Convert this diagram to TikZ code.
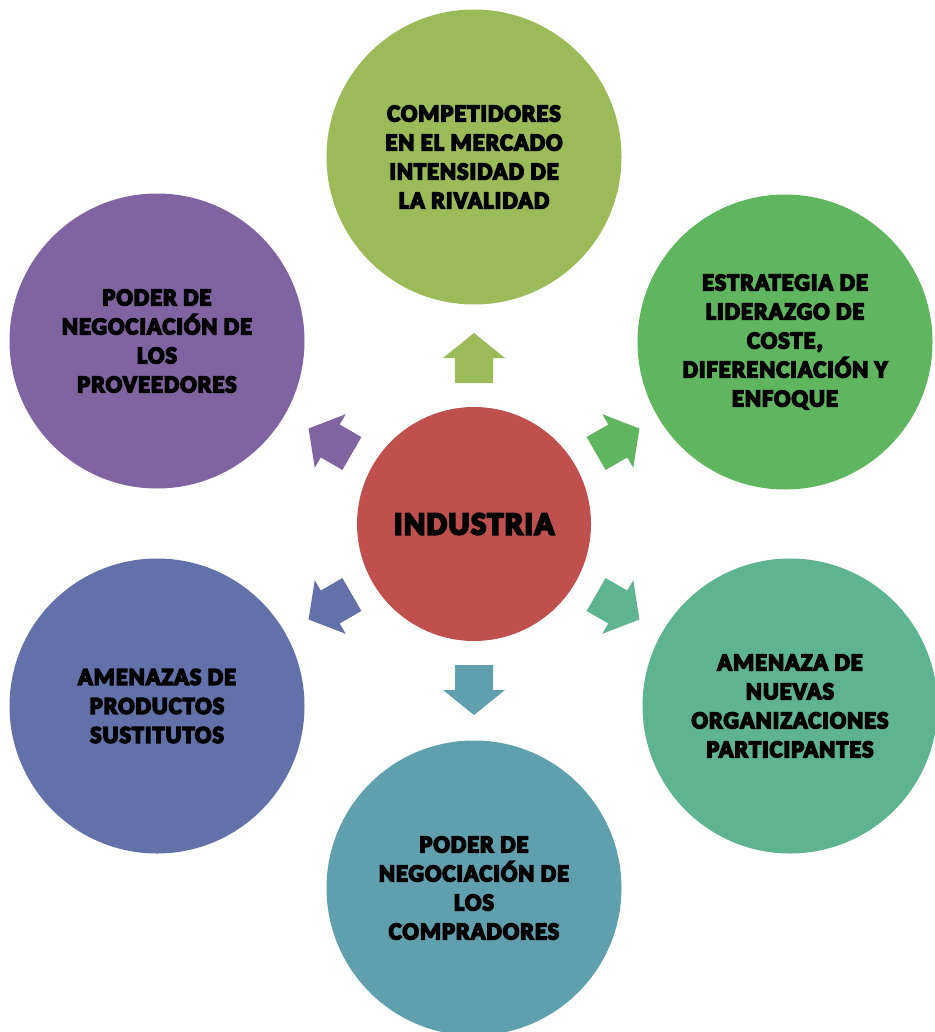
\documentclass[tikz,border=0pt]{standalone}
\usepackage{fontspec}
\setmainfont{Carlito}[BoldFeatures={FakeBold=7,LetterSpace=5}]

\definecolor{hubred}{HTML}{C0504D}
\definecolor{rivalgreen}{HTML}{9BBB59}
\definecolor{stratgreen}{HTML}{60B65E}
\definecolor{newteal}{HTML}{5EB391}
\definecolor{buyblue}{HTML}{609FAE}
\definecolor{subsblue}{HTML}{6271A9}
\definecolor{supppurple}{HTML}{8064A2}

\tikzset{
  hub/.style={circle, fill=hubred, minimum size=234pt, inner sep=0pt,
    font=\bfseries\fontsize{32}{40}\selectfont},
  force/.style={circle, minimum size=295pt, inner sep=0pt, align=center,
    font=\bfseries\fontsize{24}{29}\selectfont},
}

\begin{document}
\begin{tikzpicture}
\useasboundingbox (0,0) rectangle (934pt,-1032pt);
\begin{scope}[shift={(474pt,-524pt)}]
% Central circle
\node[hub] (ind) at (0,0) {INDUSTRIA};
% The six outer circles
\node[force, fill=rivalgreen] (rival) at (0pt,367pt) {COMPETIDORES\\EN EL MERCADO\\INTENSIDAD DE\\LA RIVALIDAD};
\node[force, fill=stratgreen] (strat) at (311pt,182pt) {ESTRATEGIA DE\\LIDERAZGO DE\\COSTE,\\DIFERENCIACIÓN Y\\ENFOQUE};
\node[force, fill=newteal] (entr) at (316pt,-182pt) {AMENAZA DE\\NUEVAS\\ORGANIZACIONES\\PARTICIPANTES};
\node[force, fill=buyblue] (buy) at (0pt,-364pt) {PODER DE\\NEGOCIACIÓN DE\\LOS\\COMPRADORES};
\node[force, fill=subsblue] (subs) at (-317pt,-182pt) {AMENAZAS DE\\PRODUCTOS\\SUSTITUTOS};
\node[force, fill=supppurple] (supp) at (-317pt,183pt) {PODER DE\\NEGOCIACIÓN DE\\LOS\\PROVEEDORES};
% Block arrows pointing outwards
\foreach \ang/\col in {90/rivalgreen, 30/stratgreen, -30/newteal, -90/buyblue, -150/subsblue, 150/supppurple}
  \fill[\col, rotate=\ang, xshift=166pt]
    (-25pt,-19pt) -- (0pt,-19pt) -- (0pt,-31pt) -- (25pt,0pt)
    -- (0pt,31pt) -- (0pt,19pt) -- (-25pt,19pt) -- cycle;
\end{scope}
\end{tikzpicture}
\end{document}
